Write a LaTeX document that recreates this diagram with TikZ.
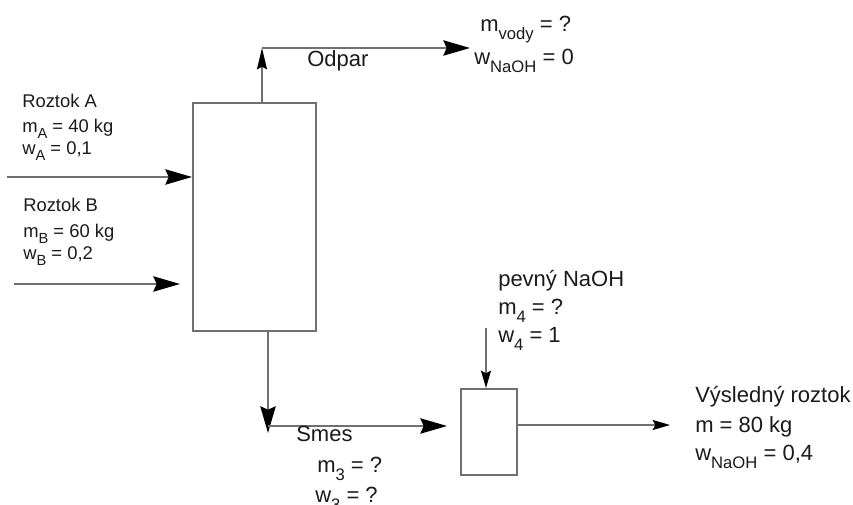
\documentclass[tikz,border=0pt]{standalone}
\usepackage{fontspec}
\setmainfont{Liberation Sans}
\usetikzlibrary{arrows.meta}
\definecolor{linegray}{HTML}{707070}
\definecolor{txt}{HTML}{1A1A1A}
\newcommand{\lowsub}[2][12.5]{\raisebox{-0.32em}{\fontsize{#1}{#1}\selectfont #2}}
\tikzset{
  flow/.style={draw=linegray, line width=1.4pt},
  bigtip/.style={-{Stealth[black, length=20pt, width=11.5pt, inset=2.5pt]}},
  smalltip/.style={-{Stealth[black, length=13pt, width=7.5pt, inset=2pt]}},
  uptip/.style={-{Stealth[black, length=16pt, width=7.5pt, inset=2pt]}},
  unitbox/.style={draw=linegray, line width=1.4pt, fill=white, inner sep=0pt},
  bigtxt/.style={anchor=base west, inner sep=0pt, text=txt, font=\fontsize{16.5}{18}\selectfont},
  smtxt/.style={anchor=base west, inner sep=0pt, text=txt, font=\fontsize{13.8}{15}\selectfont},
}
\begin{document}
\begin{tikzpicture}[x=0.75pt, y=-0.75pt]
\useasboundingbox (0,0) rectangle (853,505);
% units
\node[unitbox, anchor=north west, minimum width=92.25pt, minimum height=171pt] (evap) at (192,102) {};
\node[unitbox, anchor=north west, minimum width=42pt, minimum height=64.5pt] (mixer) at (460,388) {};
% free ends
\coordinate (inA) at (7,177);
\coordinate (inB) at (14,284);
\coordinate (endB) at (180,284);
\coordinate (vapbot) at (262,102);
\coordinate (vapcorner) at (262,48);
\coordinate (vapend) at (470,48);
\coordinate (smtop) at (268,330);
\coordinate (smdown) at (268,433);
\coordinate (smcorner) at (268,426);
\coordinate (smend) at (447,426);
\coordinate (naoh) at (486,328);
\coordinate (outstart) at (516,425);
\coordinate (outend) at (670,425);
% connectors
\draw[flow, bigtip] (inA) -- (inA -| evap.west);
\draw[flow, bigtip] (inB) -- (endB);
\draw[flow, uptip] (vapbot) -- (vapcorner);
\draw[flow, bigtip] (vapcorner) -- (vapend);
\draw[flow, bigtip] (smtop) -- (smdown);
\draw[flow, bigtip] (smcorner) -- (smend);
\draw[flow, smalltip] (naoh) -- (naoh |- mixer.north);
\draw[flow, smalltip] (outstart) -- (outend);
% labels
\node[smtxt] (la1) at (22,108) {Roztok A};
\node[smtxt] (la2) at (22,133) {m\lowsub[11]{A} = 40 kg};
\node[smtxt] (la3) at (22,155) {w\lowsub[11]{A} = 0,1};
\node[smtxt] (lb1) at (23,212) {Roztok B};
\node[smtxt] (lb2) at (23,238) {m\lowsub[11]{B} = 60 kg};
\node[smtxt] (lb3) at (23,260) {w\lowsub[11]{B} = 0,2};
\node[bigtxt] (lod) at (307,67) {Odpar};
\node[bigtxt] (lv1) at (480,32) {m\lowsub{vody} = ?};
\node[bigtxt] (lv2) at (474,65) {w\lowsub{NaOH} = 0};
\node[bigtxt] (ln1) at (498,287) {pevný NaOH};
\node[bigtxt] (ln2) at (498,315) {m\lowsub{4} = ?};
\node[bigtxt] (ln3) at (498,343) {w\lowsub{4} = 1};
\node[bigtxt] (ls1) at (296,442) {Smes};
\node[bigtxt] (ls2) at (317,473) {m\lowsub{3} = ?};
\node[bigtxt] (ls3) at (315,503) {w\lowsub{3} = ?};
\node[bigtxt] (lr1) at (695,403) {Výsledný roztok};
\node[bigtxt] (lr2) at (695,433) {m = 80 kg};
\node[bigtxt] (lr3) at (695,461) {w\lowsub{NaOH} = 0,4};
\end{tikzpicture}
\end{document}
